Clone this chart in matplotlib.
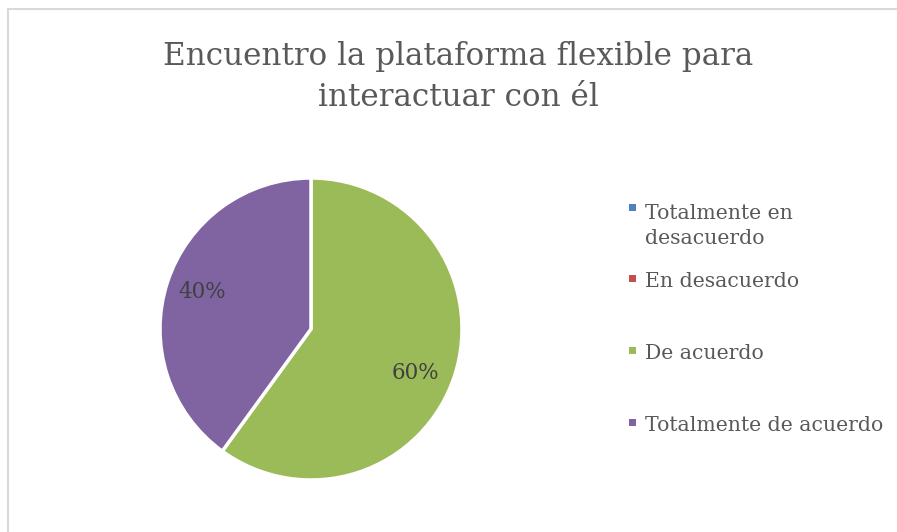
import matplotlib
matplotlib.use("Agg")
import matplotlib.pyplot as plt
import matplotlib.patches as mpatches

plt.rcParams.update({"font.family": "DejaVu Serif"})

TITLE = "Encuentro la plataforma flexible para\ninteractuar con él"
categories = ["Totalmente en\ndesacuerdo", "En desacuerdo", "De acuerdo", "Totalmente de acuerdo"]
values = [0, 0, 60, 40]
colors = ["#4F81BD", "#C0504D", "#9BBB59", "#8064A2"]

W, H = 897, 532
fig = plt.figure(figsize=(W / 100, H / 100), dpi=100)

# light chart-area border (only top/left visible in the crop)
fig.patches.append(mpatches.Rectangle((8 / W, -0.1), 1.2, 1 - 9 / H + 0.1,
                                      transform=fig.transFigure, fill=False,
                                      edgecolor="#D9D9D9", linewidth=1.5))

fig.text(458 / W, 1 - 77 / H, TITLE, ha="center", va="center",
         fontsize=22.3, color="#595959", linespacing=1.42)

# pie
cx, cy, r = 311, 329, 151
ax = fig.add_axes([(cx - r) / W, (H - cy - r) / H, 2 * r / W, 2 * r / H])
wedges, texts, autotexts = ax.pie(
    values, colors=colors, startangle=90, counterclock=False,
    autopct=lambda p: f"{p:.0f}%" if p > 0 else "", pctdistance=0.76,
    wedgeprops={"edgecolor": "white", "linewidth": 2.5},
    textprops={"fontsize": 15.5, "color": "#404040"})
# Excel-like label placement
autotexts[2].set_position((0.69, -0.29))
autotexts[3].set_position((-0.72, 0.245))
ax.set_xlim(-1.0, 1.0)
ax.set_ylim(-1.0, 1.0)
ax.axis("off")

# legend drawn by hand so the wrapped entry keeps its marker on the first line
first_base = [217, 287, 359, 431]
line_gap = 27
for lab, col, y in zip(categories, colors, first_base):
    fig.patches.append(mpatches.Rectangle((629 / W, 1 - (y - 5.5) / H), 7 / W, 7 / H,
                                          transform=fig.transFigure, facecolor=col,
                                          edgecolor="none"))
    last_base = y + line_gap * lab.count("\n")
    fig.text(645 / W, 1 - last_base / H, lab, ha="left", va="baseline",
             fontsize=14.7, color="#595959", linespacing=1.4)

plt.savefig("out.png", dpi=100)
